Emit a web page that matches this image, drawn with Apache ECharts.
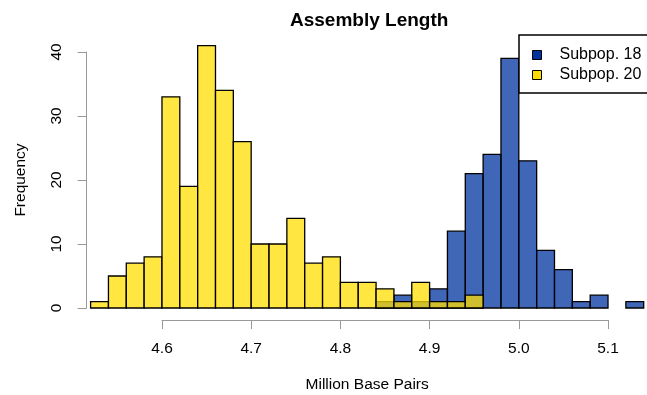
<!DOCTYPE html>
<html>
<head>
<meta charset="utf-8">
<script src="https://cdn.jsdelivr.net/npm/echarts@6/dist/echarts.min.js"></script>
<style>html,body{margin:0;padding:0;background:#fff;}#c{width:647px;height:395px;}</style>
</head>
<body>
<div id="c"></div>
<script>
// Histogram bin starts (bin width 0.02) and counts
var binWidth = 0.02;
var bins20 = [4.52,4.54,4.56,4.58,4.60,4.62,4.64,4.66,4.68,4.70,4.72,4.74,4.76,4.78,4.80,4.82,4.84,4.86,4.88,4.90,4.92,4.94];
var sub20  = [1,5,7,8,33,19,41,34,26,10,10,14,7,8,4,4,3,1,4,1,1,2];
var bins18 = [4.84,4.86,4.88,4.90,4.92,4.94,4.96,4.98,5.00,5.02,5.04,5.06,5.08,5.10,5.12];
var sub18  = [1,2,1,3,12,21,24,39,23,9,6,1,2,0,1];
var xTicks = [4.6,4.7,4.8,4.9,5.0,5.1];
var yTicks = [0,10,20,30,40];

var font = 'Liberation Sans, Arial, sans-serif';

function makeData(bins, vals){
  return bins.map(function(b,i){ return [b, b + binWidth, vals[i]]; });
}
function renderer(fill){
  return function(params, api){
    var p0 = api.coord([api.value(0), 0]);
    var p1 = api.coord([api.value(1), api.value(2)]);
    if (api.value(2) <= 0) return null;
    return {
      type: 'rect',
      shape: {x: p0[0], y: p1[1], width: p1[0]-p0[0], height: p0[1]-p1[1]},
      style: {fill: fill, stroke: '#000', lineWidth: 1.3}
    };
  };
}

var chart = echarts.init(document.getElementById('c'), null, {renderer:'canvas'});
chart.setOption({
  animation: false,
  backgroundColor: '#fff',
  title: {
    text: 'Assembly Length',
    left: 285, top: 6,
    textStyle: {fontFamily: font, fontSize: 19, fontWeight: 'bold', color: '#000'}
  },
  legend: {
    orient: 'vertical',
    left: 519, top: 35,
    padding: [12, 40, 10, 13],
    backgroundColor: '#fff',
    borderColor: '#000', borderWidth: 1.5,
    icon: 'rect', itemWidth: 9, itemHeight: 9, itemGap: 4,
    itemStyle: {borderColor: '#000', borderWidth: 1},
    textStyle: {fontFamily: font, fontSize: 16, color: '#000', lineHeight: 15, padding: [0,0,0,13]},
    data: ['Subpop. 18', 'Subpop. 20']
  },
  grid: [
    {left: 90.6, right: 3.3, top: 52, bottom: 87, outerBoundsMode: 'none', containLabel: false},
    {left: 162, right: 39, top: 300, bottom: 75, outerBoundsMode: 'none', containLabel: false}
  ],
  xAxis: [
    {type: 'value', gridIndex: 0, min: 4.52, max: 5.14,
     axisLine: {show: false}, axisTick: {show: false}, axisLabel: {show: false}, splitLine: {show: false},
     name: 'Million Base Pairs', nameLocation: 'middle', nameGap: 69,
     nameTextStyle: {fontFamily: font, fontSize: 15.5, color: '#000'}},
    {type: 'value', gridIndex: 1, min: 4.6, max: 5.1, interval: 0.1, position: 'bottom',
     axisLine: {show: true, lineStyle: {color: '#999', width: 1}},
     axisTick: {show: true, length: 9, lineStyle: {color: '#999'}},
     splitLine: {show: false},
     axisLabel: {margin: 21, fontFamily: font, fontSize: 15.5, color: '#000',
       formatter: function(v){ return v.toFixed(1); }}}
  ],
  yAxis: [
    {type: 'value', gridIndex: 0, min: 0, max: 40, interval: 10, offset: 4,
     axisLine: {show: true, lineStyle: {color: '#999', width: 1}},
     axisTick: {show: true, length: 9, lineStyle: {color: '#999'}},
     splitLine: {show: false},
     axisLabel: {rotate: 90, margin: 22, fontFamily: font, fontSize: 15.5, color: '#000'},
     name: 'Frequency', nameLocation: 'middle', nameGap: 58, nameRotate: 90,
     nameTextStyle: {fontFamily: font, fontSize: 15.5, color: '#000'}},
    {type: 'value', gridIndex: 1, show: false}
  ],
  series: [
    {name: 'Subpop. 18', type: 'custom', xAxisIndex: 0, yAxisIndex: 0,
     itemStyle: {color: '#0033a0'},
     renderItem: renderer('rgba(0,51,160,0.75)'),
     encode: {x: [0,1], y: 2},
     data: makeData(bins18, sub18)},
    {name: 'Subpop. 20', type: 'custom', xAxisIndex: 0, yAxisIndex: 0,
     itemStyle: {color: '#ffdd00'},
     renderItem: renderer('rgba(255,221,0,0.75)'),
     encode: {x: [0,1], y: 2},
     data: makeData(bins20, sub20)}
  ]
});
</script>
</body>
</html>
